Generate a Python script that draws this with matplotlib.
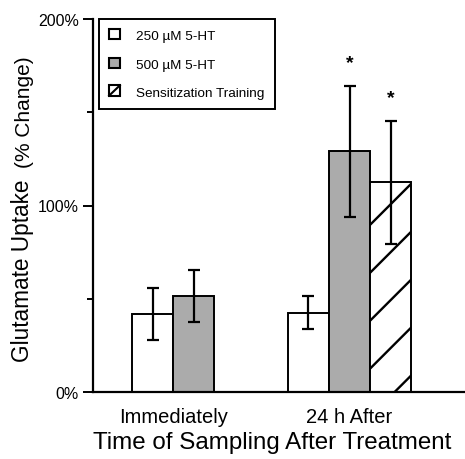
import numpy as np
import matplotlib
matplotlib.use('Agg')
import matplotlib.pyplot as plt
from matplotlib.patches import Rectangle
from matplotlib.lines import Line2D
from matplotlib.legend_handler import HandlerBase

plt.rcParams['font.family'] = ['Liberation Sans', 'DejaVu Sans']

# data (% change in glutamate uptake)
groups = ['Immediately', '24 h After']
series = ['250 \u00b5M 5-HT', '500 \u00b5M 5-HT', 'Sensitization Training']
val_250 = [41.7, 42.6]
err_250 = [14.0, 8.7]
val_500 = [51.5, 129.0]
err_500 = [14.0, 35.0]
val_train = [np.nan, 112.4]
err_train = [np.nan, 33.0]
signif = [[False, False], [False, True], [False, True]]  # per series, per group

values = [val_250, val_500, val_train]
errors = [err_250, err_500, err_train]
fills = ['white', '#ababab', 'white']

fig = plt.figure(figsize=(4.65, 4.6), dpi=100)
ax = fig.add_axes([93/465, 1-393/460, 1-93/465, 373/460])

w = 0.233
for g in range(len(groups)):
    present = [i for i in range(len(series)) if not np.isnan(values[i][g])]
    n = len(present)
    for k, i in enumerate(present):
        x = g + (k - (n-1)/2)*w
        v = values[i][g]
        bar = ax.bar(x, v, width=w, color=fills[i], edgecolor='black', linewidth=1.4, zorder=2)[0]
        if i == 2:
            # wide single-diagonal hatch, drawn by hand
            rise, step = 22.0, 25.7
            for y0 in np.arange(-13.2, v, step):
                ln = Line2D([x - w/2, x + w/2], [y0, y0 + rise], color='black', lw=1.7, zorder=3)
                ax.add_line(ln)
                ln.set_clip_path(bar)
        ax.errorbar(x, v, yerr=errors[i][g], fmt='none', ecolor='black', elinewidth=1.6,
                    capsize=4, capthick=1.6, zorder=4)
        if signif[i][g]:
            ax.text(x, v + errors[i][g] + 10, '*', ha='center', va='baseline', fontsize=14,
                    fontweight='bold')

ax.set_xlim(-0.457, 1.656)
ax.set_ylim(0, 200)
ax.set_yticks([0, 100, 200])
ax.set_yticklabels(['0%', '100%', '200%'])
ax.set_yticks([50, 150], minor=True)
ax.set_xticks([0, 1])
ax.set_xticklabels(groups)
ax.tick_params(axis='x', length=0, pad=11, labelsize=14.5)
ax.tick_params(axis='y', which='major', length=7, width=1.4, labelsize=11.5, pad=3)
ax.tick_params(axis='y', which='minor', length=4, width=1.4)
for s in ['top', 'right']:
    ax.spines[s].set_visible(False)
for s in ['left', 'bottom']:
    ax.spines[s].set_linewidth(1.6)
ax.spines['left'].set_zorder(5)

ax.set_xlabel('Time of Sampling After Treatment', fontsize=17.4)
ax.xaxis.set_label_coords((272.5-93)/372, -0.105)

fig.text(22/465, 1-362/460, 'Glutamate Uptake', rotation=90, ha='center', va='bottom', fontsize=16.3)
fig.text(24/465, 1-168/460, '(% Change)', rotation=90, ha='center', va='bottom', fontsize=15)


class HatchHandler(HandlerBase):
    def create_artists(self, legend, orig, xd, yd, width, height, fontsize, trans):
        r = Rectangle((xd, yd), width, height, fc='white', ec='black', lw=1.5, transform=trans)
        l = Line2D([xd, xd + width], [yd, yd + height], color='black', lw=1.5, transform=trans)
        return [r, l]


handles = [Rectangle((0, 0), 1, 1, fc=fills[0], ec='black', lw=1.5),
           Rectangle((0, 0), 1, 1, fc=fills[1], ec='black', lw=1.5),
           Rectangle((0, 0), 1, 1, fc='white', ec='black')]
leg = ax.legend(handles, series, loc='upper left', bbox_to_anchor=(6/372, 1.0), borderaxespad=0,
                fontsize=9.7, handlelength=0.8, handleheight=0.8, handletextpad=1.2,
                labelspacing=1.17, borderpad=0.75, fancybox=False, framealpha=1,
                edgecolor='black', handler_map={handles[2]: HatchHandler()})
leg.get_frame().set_linewidth(1.4)

fig.savefig('out.png', dpi=100)
